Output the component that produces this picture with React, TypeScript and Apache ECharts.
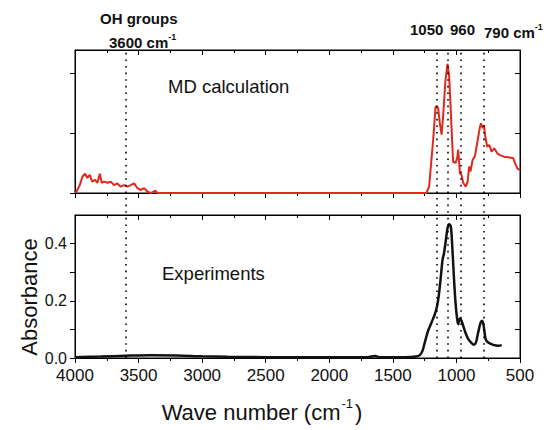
import React, { useEffect, useRef } from "react";
import * as echarts from "echarts";

// MD calculation (red, top panel) — wave number (cm-1) and intensity (arb. units)
const mdWave = [3995, 3963, 3942, 3921, 3903, 3884, 3864, 3842, 3824, 3805, 3790, 3771, 3745, 3719, 3693, 3667, 3640, 3614, 3588, 3561, 3535, 3509, 3482, 3456, 3430, 3403, 3369, 3351, 1236, 1215, 1183, 1164, 1144, 1131, 1117, 1105, 1086, 1070, 1057, 1046, 1034, 1026, 1007, 994, 986, 978, 973, 960, 947, 926, 912, 900, 889, 873, 855, 837, 815, 807, 794, 784, 773, 758, 742, 723, 703, 679, 658, 626, 592, 553, 540, 521, 500];
const mdValue = [0, 0.13, 0.27, 0.32, 0.25, 0.3, 0.19, 0.22, 0.17, 0.32, 0.17, 0.19, 0.17, 0.19, 0.13, 0.16, 0.105, 0.13, 0.105, 0.13, 0.16, 0.08, 0.05, 0.08, 0.02, 0, 0.04, 0, 0, 0.105, 0.883, 1.44, 1.42, 1.17, 0.97, 1.27, 1.88, 2.15, 1.94, 1.44, 0.88, 0.52, 0.5, 0.58, 0.72, 0.5, 0.33, 0.3, 0.17, 0.105, 0.19, 0.44, 0.36, 0.55, 0.61, 0.83, 1.1, 1.16, 1.08, 1.13, 0.94, 0.77, 0.8, 0.69, 0.745, 0.66, 0.63, 0.605, 0.595, 0.58, 0.5, 0.41, 0.38];

// Experiments (black, bottom panel) — absorbance
const expWave = [4000, 3800, 3600, 3400, 3200, 3000, 2800, 2500, 2000, 1700, 1640, 1600, 1400, 1320, 1288, 1267, 1249, 1223, 1196, 1170, 1152, 1139, 1125, 1109, 1097, 1083, 1070, 1057, 1044, 1034, 1020, 1007, 994, 986, 973, 960, 934, 907, 881, 863, 847, 829, 810, 797, 784, 770, 750, 710, 671, 644];
const expValue = [0.003, 0.005, 0.008, 0.01, 0.009, 0.006, 0.004, 0.003, 0.003, 0.003, 0.007, 0.003, 0.003, 0.005, 0.01, 0.025, 0.054, 0.095, 0.124, 0.153, 0.182, 0.217, 0.274, 0.344, 0.368, 0.413, 0.454, 0.468, 0.46, 0.4, 0.285, 0.193, 0.135, 0.118, 0.138, 0.13, 0.095, 0.066, 0.052, 0.046, 0.054, 0.089, 0.124, 0.13, 0.107, 0.066, 0.054, 0.046, 0.043, 0.045];

// Reference lines (cm-1)
const refLines = [3600, 1155, 1070, 968, 787];

// Tick values
const topTicks = [0, 1, 2];
const absTicks = [0, 0.1, 0.2, 0.3, 0.4];
const absLabels = [0, 0.2, 0.4];

const FONT = "'Liberation Sans', Arial, sans-serif";

export default function App() {
  const ref = useRef<HTMLDivElement>(null);
  useEffect(() => {
    if (!ref.current) return;
    const chart = echarts.init(ref.current, undefined, { renderer: "svg" });
    const axisLine = { show: true, onZero: false, lineStyle: { color: "#000", width: 1 } };
    const tickStyle = { color: "#000", width: 1 };
    const xBase = {
      type: "value" as const,
      min: 500,
      max: 4000,
      interval: 500,
      inverse: true,
      splitLine: { show: false },
      axisLine,
    };
    const minor = { show: true, splitNumber: 2, length: 3, lineStyle: tickStyle };
    const frame = { show: true, borderColor: "#000", borderWidth: 1, backgroundColor: "transparent" };
    const dummy = (xi: number, yi: number) => ({ type: "line", xAxisIndex: xi, yAxisIndex: yi, data: [], symbol: "none", silent: true });
    const option: any = {
      animation: false,
      backgroundColor: "#fff",
      textStyle: { fontFamily: FONT },
      grid: [
        { left: 75, top: 50, width: 445, height: 143, ...frame },
        { left: 75, top: 215, width: 445, height: 143, ...frame },
        { left: 75, top: 50, width: 445, height: 308 },
      ],
      xAxis: [
        { ...xBase, gridIndex: 0, position: "bottom", axisLabel: { show: false }, axisTick: { length: 5, lineStyle: tickStyle }, minorTick: minor },
        { ...xBase, gridIndex: 0, position: "top", axisLabel: { show: false }, axisTick: { inside: true, length: 5, lineStyle: tickStyle }, minorTick: minor },
        { ...xBase, gridIndex: 1, position: "bottom", axisLabel: { show: true, fontSize: 17, color: "#111", fontFamily: FONT, margin: 9, formatter: (v: number) => String(v) }, axisTick: { length: 5, lineStyle: tickStyle }, minorTick: minor },
        { ...xBase, gridIndex: 1, position: "top", axisLabel: { show: false }, axisTick: { inside: true, length: 5, lineStyle: tickStyle }, minorTick: minor },
        { ...xBase, gridIndex: 2, show: false },
      ],
      yAxis: [
        { type: "value", gridIndex: 0, min: 0, max: 2.38, position: "left", splitLine: { show: false }, axisLine, axisLabel: { show: false }, axisTick: { length: 5, lineStyle: tickStyle, customValues: topTicks } },
        { type: "value", gridIndex: 0, min: 0, max: 2.38, position: "right", splitLine: { show: false }, axisLine, axisLabel: { show: false }, axisTick: { inside: true, length: 5, lineStyle: tickStyle, customValues: topTicks } },
        { type: "value", gridIndex: 1, min: 0, max: 0.5, position: "left", splitLine: { show: false }, axisLine,
          axisLabel: { fontSize: 16, color: "#111", fontFamily: FONT, margin: 8, customValues: absLabels, formatter: (v: number) => v.toFixed(1) },
          axisTick: { length: 5, lineStyle: tickStyle, customValues: absTicks } },
        { type: "value", gridIndex: 1, min: 0, max: 0.5, position: "right", splitLine: { show: false }, axisLine, axisLabel: { show: false }, axisTick: { inside: true, length: 5, lineStyle: tickStyle, customValues: absTicks } },
        { type: "value", gridIndex: 2, min: 0, max: 1, show: false },
      ],
      series: [
        { type: "line", xAxisIndex: 0, yAxisIndex: 0, data: mdWave.map((w, i) => [w, mdValue[i]]), showSymbol: false, symbol: "none", lineStyle: { color: "#e0281e", width: 2 }, z: 3 },
        { type: "line", xAxisIndex: 2, yAxisIndex: 2, data: expWave.map((w, i) => [w, expValue[i]]), showSymbol: false, symbol: "none", smooth: 0.3, lineStyle: { color: "#111", width: 2.5 }, z: 3 },
        dummy(1, 1),
        dummy(3, 3),
        { type: "line", xAxisIndex: 4, yAxisIndex: 4, data: [], symbol: "none", z: 4,
          markLine: { silent: true, symbol: ["none", "none"], label: { show: false }, lineStyle: { color: "#000", width: 1.6, type: [1.6, 5] }, data: refLines.map((x) => ({ xAxis: x })) } },
      ],
      graphic: [
        { type: "text", left: 100, top: 11, style: { text: "OH groups", font: `bold 15px ${FONT}`, fill: "#111" } },
        { type: "text", left: 109, top: 32, style: { text: "{a|3600 cm}{s|-1}", rich: { a: { font: `bold 15px ${FONT}`, fill: "#111", lineHeight: 18, verticalAlign: "bottom" }, s: { font: `bold 9px ${FONT}`, fill: "#111", lineHeight: 18, verticalAlign: "top" } } } },
        { type: "text", left: 410, top: 22, style: { text: "1050", font: `bold 15px ${FONT}`, fill: "#111" } },
        { type: "text", left: 450, top: 22, style: { text: "960", font: `bold 15px ${FONT}`, fill: "#111" } },
        { type: "text", left: 484, top: 22, style: { text: "{a|790 cm}{s|-1}", rich: { a: { font: `bold 15px ${FONT}`, fill: "#111", lineHeight: 18, verticalAlign: "bottom" }, s: { font: `bold 9px ${FONT}`, fill: "#111", lineHeight: 18, verticalAlign: "top" } } } },
        { type: "text", left: 168, top: 77, style: { text: "MD calculation", font: `18.5px ${FONT}`, fill: "#111" } },
        { type: "text", left: 162, top: 264, style: { text: "Experiments", font: `18.5px ${FONT}`, fill: "#111" } },
        { type: "text", x: 29, y: 297, rotation: Math.PI / 2, style: { text: "Absorbance", font: `22px ${FONT}`, fill: "#111", align: "center", verticalAlign: "middle" } },
        { type: "text", x: 262, y: 410, style: { text: "{a|Wave number (cm}{s|-1}{a|)}", align: "center", verticalAlign: "middle", rich: { a: { font: `22px ${FONT}`, fill: "#111", lineHeight: 26, verticalAlign: "bottom" }, s: { font: `13px ${FONT}`, fill: "#111", lineHeight: 26, verticalAlign: "top", padding: [0, 2, 0, 1] } } } },
      ],
    };
    chart.setOption(option);
    return () => chart.dispose();
  }, []);
  return <div ref={ref} style={{ width: 544, height: 430, position: "absolute", left: 0, top: 0 }} />;
}
